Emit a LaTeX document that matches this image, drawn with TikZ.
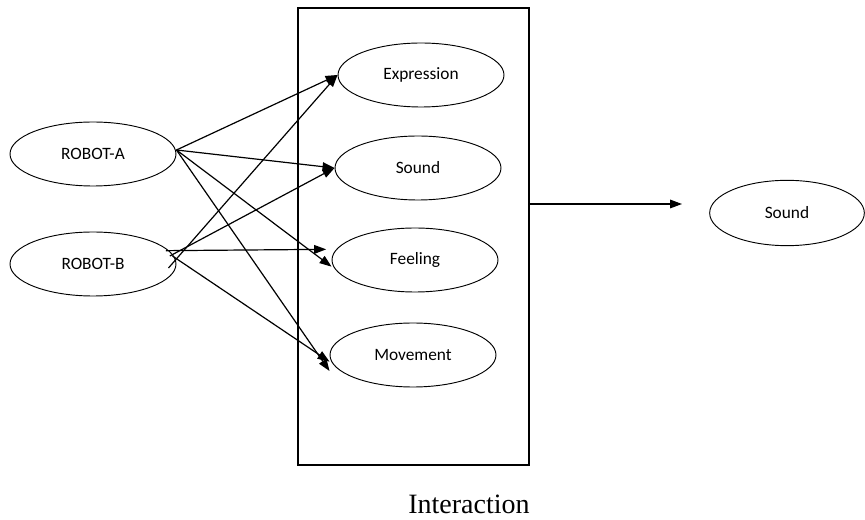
\documentclass[tikz,border=0pt]{standalone}
\usepackage{fontspec}
\setmainfont{Carlito}
\newfontfamily\captionfont{Liberation Serif}
\usetikzlibrary{shapes.geometric,arrows.meta}

\begin{document}
\begin{tikzpicture}[x=0.75pt,y=-0.75pt,
    oval/.style={ellipse,draw,line width=0.7pt,minimum width=124.5pt,
      minimum height=48pt,inner sep=0pt,font=\fontsize{13}{15}\selectfont},
    link/.style={-{Triangle[length=9pt,width=6.5pt]},line width=0.9pt}]
  \useasboundingbox (0,0) rectangle (865,520);
  \node[draw,line width=1.1pt,minimum width=173.25pt,minimum height=342.75pt]
    (box) at (413.5,236.5) {};
  \draw
    (93,154) node[oval] (ra){ROBOT-A}
    (93,264) node[oval] (rb){ROBOT-B}
    (421,75) node[oval] (expr){Expression}
    (418,168) node[oval] (snd){Sound}
    (415,260) node[oval] (feel){Feeling}
    (413,355) node[oval] (mov){Movement}
    (787,213) node[oval,minimum width=116pt,minimum height=49pt] (out){Sound}
    (469,504) node[font=\captionfont\fontsize{21}{24}\selectfont] (cap){Interaction};
  \coordinate (outtip) at (682,204);
  \begin{scope}[link]
    \draw ([yshift=3pt]ra.east) to (expr.west);
    \draw ([yshift=3pt]ra.east) to (snd.west);
    \draw ([yshift=3pt]ra.east) to ([yshift=-5pt]feel.west);
    \draw ([yshift=3pt]ra.east) to ([yshift=-12pt]mov.west);
    \draw ([shift={(-6pt,-3pt)}]rb.east) to (expr.west);
    \draw ([shift={(-5pt,6pt)}]rb.east) to (snd.west);
    \draw ([shift={(-8pt,10pt)}]rb.east) to ([shift={(-4pt,8pt)}]feel.west);
    \draw ([shift={(-3pt,6pt)}]rb.east) to ([yshift=-5pt]mov.west);
    \draw (box.east |- outtip) to (outtip);
  \end{scope}
\end{tikzpicture}
\end{document}
